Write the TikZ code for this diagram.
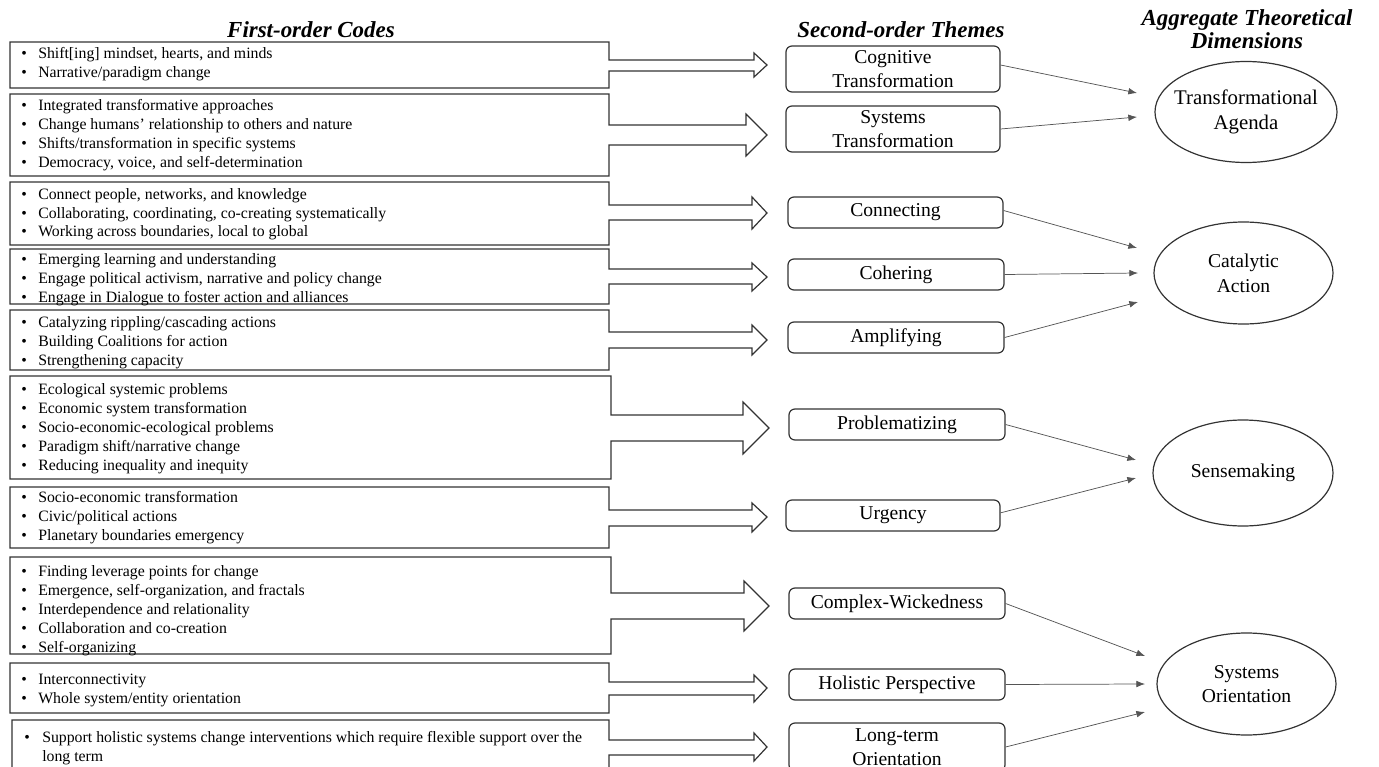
\documentclass[tikz,border=0pt]{standalone}
\usepackage{fontspec}
\setmainfont{Liberation Serif}
\usetikzlibrary{shapes.geometric,arrows.meta}
\definecolor{edge}{HTML}{333333}
\definecolor{conn}{HTML}{555555}
\tikzset{
  codebox/.style={draw=edge, line width=0.9pt, line join=miter},
  codes/.style={inner sep=0pt, anchor=base west, font=\fontsize{11.85}{14.25}\selectfont},
  theme/.style={draw=edge, line width=0.9pt, rounded corners=4.5pt, inner sep=0pt, align=center,
    font=\fontsize{14.7}{18}\selectfont},
  dimension/.style={draw=edge, line width=0.9pt, ellipse, inner xsep=-9pt, inner ysep=0pt, align=center,
    font=\fontsize{14.7}{18.5}\selectfont},
  heading/.style={inner sep=0pt, align=center, font=\fontsize{17.2}{17.5}\selectfont\bfseries\itshape},
  link/.style={draw=conn, line width=0.55pt, -{Latex[length=6.5pt,width=5pt]}}
}
\newcommand{\bl}{\textbullet}
\begin{document}
\begin{tikzpicture}[x=0.75pt,y=-0.75pt]
\useasboundingbox (0,0) rectangle (1379,767);
\clip (0,0) rectangle (1379,767);

% headings
\node[heading] (h1) at (311,30) {First-order Codes};
\node[heading] (h2) at (901,30) {Second-order Themes};
\node[heading] (h3) at (1247,29) {Aggregate Theoretical\\Dimensions};

% first-order callout boxes
\draw[codebox] (10,42) -- (609,42) -- (609,60) -- (754,60) -- (754,53) -- (767,65) -- (754,77) -- (754,71) -- (609,71) -- (609,88) -- (10,88) -- cycle;
\draw[codebox] (10,94) -- (609,94) -- (609,125) -- (746,125) -- (746,114) -- (767,135) -- (746,156) -- (746,145) -- (609,145) -- (609,176) -- (10,176) -- cycle;
\draw[codebox] (10,182) -- (609,182) -- (609,205) -- (752,205) -- (752,197) -- (767,213) -- (752,229) -- (752,220) -- (609,220) -- (609,245) -- (10,245) -- cycle;
\draw[codebox] (10,249) -- (609,249) -- (609,269) -- (752,269) -- (752,263) -- (767,277) -- (752,291) -- (752,284) -- (609,284) -- (609,304) -- (10,304) -- cycle;
\draw[codebox] (10,310) -- (609,310) -- (609,332) -- (752,332) -- (752,325) -- (767,340) -- (752,355) -- (752,348) -- (609,348) -- (609,370) -- (10,370) -- cycle;
\draw[codebox] (10,376) -- (611,376) -- (611,415) -- (743,415) -- (743,402) -- (769,428) -- (743,454) -- (743,441) -- (611,441) -- (611,479) -- (10,479) -- cycle;
\draw[codebox] (10,487) -- (609,487) -- (609,510) -- (752,510) -- (752,503) -- (767,517) -- (752,532) -- (752,526) -- (609,526) -- (609,548) -- (10,548) -- cycle;
\draw[codebox] (10,557) -- (611,557) -- (611,593) -- (744,593) -- (744,581) -- (769,606) -- (744,631) -- (744,619) -- (611,619) -- (611,654) -- (10,654) -- cycle;
\draw[codebox] (10,663) -- (609,663) -- (609,682) -- (754,682) -- (754,675) -- (767,688) -- (754,702) -- (754,695) -- (609,695) -- (609,713) -- (10,713) -- cycle;
\draw[codebox] (12,720) -- (609,720) -- (609,740) -- (754,740) -- (754,733) -- (767,747) -- (754,761) -- (754,755) -- (609,755) -- (609,790) -- (12,790) -- cycle;

% first-order codes
\node[codes] (c1) at (21,59) {\begin{tabular}[t]{@{}p{12.75pt}@{}l@{}}
\bl & Shift[ing] mindset, hearts, and minds\\
\bl & Narrative/paradigm change\end{tabular}};
\node[codes] (c2) at (21,111) {\begin{tabular}[t]{@{}p{12.75pt}@{}l@{}}
\bl & Integrated transformative approaches\\
\bl & Change humans’ relationship to others and nature\\
\bl & Shifts/transformation in specific systems\\
\bl & Democracy, voice, and self-determination\end{tabular}};
\node[codes] (c3) at (21,199) {\begin{tabular}[t]{@{}p{12.75pt}@{}l@{}}
\bl & Connect people, networks, and knowledge\\
\bl & Collaborating, coordinating, co-creating systematically\\
\bl & Working across boundaries, local to global\end{tabular}};
\node[codes] (c4) at (21,264) {\begin{tabular}[t]{@{}p{12.75pt}@{}l@{}}
\bl & Emerging learning and understanding\\
\bl & Engage political activism, narrative and policy change\\
\bl & Engage in Dialogue to foster action and alliances\end{tabular}};
\node[codes] (c5) at (21,327) {\begin{tabular}[t]{@{}p{12.75pt}@{}l@{}}
\bl & Catalyzing rippling/cascading actions\\
\bl & Building Coalitions for action\\
\bl & Strengthening capacity\end{tabular}};
\node[codes] (c6) at (21,394) {\begin{tabular}[t]{@{}p{12.75pt}@{}l@{}}
\bl & Ecological systemic problems\\
\bl & Economic system transformation\\
\bl & Socio-economic-ecological problems\\
\bl & Paradigm shift/narrative change\\
\bl & Reducing inequality and inequity\end{tabular}};
\node[codes] (c7) at (21,502) {\begin{tabular}[t]{@{}p{12.75pt}@{}l@{}}
\bl & Socio-economic transformation\\
\bl & Civic/political actions\\
\bl & Planetary boundaries emergency\end{tabular}};
\node[codes] (c8) at (21,576) {\begin{tabular}[t]{@{}p{12.75pt}@{}l@{}}
\bl & Finding leverage points for change\\
\bl & Emergence, self-organization, and fractals\\
\bl & Interdependence and relationality\\
\bl & Collaboration and co-creation\\
\bl & Self-organizing\end{tabular}};
\node[codes] (c9) at (21,684) {\begin{tabular}[t]{@{}p{12.75pt}@{}l@{}}
\bl & Interconnectivity\\
\bl & Whole system/entity orientation\end{tabular}};
\node[codes] (c10) at (24,742) {\begin{tabular}[t]{@{}p{13.5pt}@{}l@{}}
\bl & Support holistic systems change interventions which require flexible support over the\\
 & long term\end{tabular}};

% second-order themes
\node[theme, minimum width=160.5pt, minimum height=34.5pt] (cog) at (893,69) {Cognitive\\Transformation};
\node[theme, minimum width=160.5pt, minimum height=34.5pt] (sys) at (893,129) {Systems\\Transformation};
\node[theme, minimum width=161.25pt, minimum height=23.25pt] (con) at (895.5,212.5) {Connecting};
\node[theme, minimum width=162pt, minimum height=23.25pt] (coh) at (896,274.5) {Cohering};
\node[theme, minimum width=162pt, minimum height=23.25pt] (amp) at (896,337.5) {Amplifying};
\node[theme, minimum width=162pt, minimum height=23.25pt] (pro) at (897,424.5) {Problematizing};
\node[theme, minimum width=160.5pt, minimum height=23.25pt] (urg) at (893,515.5) {Urgency};
\node[theme, minimum width=162pt, minimum height=23.25pt] (cw) at (897,603.5) {Complex-Wickedness};
\node[theme, minimum width=162pt, minimum height=23.25pt] (hol) at (897,684.5) {Holistic Perspective};
\node[theme, minimum width=162pt, minimum height=36pt] (lt) at (897,747) {Long-term\\Orientation};

% aggregate dimensions
\node[dimension, minimum width=136.5pt, minimum height=75.75pt, font=\fontsize{15.6}{18.5}\selectfont] (ta) at (1246,112) {Transformational\\Agenda};
\node[dimension, minimum width=134.25pt, minimum height=76.5pt] (ca) at (1243.5,273) {Catalytic\\Action};
\node[dimension, minimum width=135pt, minimum height=79.5pt] (sm) at (1243,473) {Sensemaking};
\node[dimension, minimum width=134.25pt, minimum height=76.5pt] (so) at (1246.5,684) {Systems\\Orientation};

% arrow ends
\coordinate (ta1) at (1137,93);
\coordinate (ta2) at (1137,117);
\coordinate (ca1) at (1137,248);
\coordinate (ca2) at (1138,273);
\coordinate (ca3) at (1138,302);
\coordinate (sm1) at (1136,460);
\coordinate (sm2) at (1136,478);
\coordinate (so1) at (1145,656);
\coordinate (so2) at (1145,684);
\coordinate (so3) at (1145,712);

\draw[link] ([yshift=3pt]cog.east) -- (ta1);
\draw[link] (sys.east) -- (ta2);
\draw[link] ([yshift=1.5pt]con.east) -- (ca1);
\draw[link] (coh.east) -- (ca2);
\draw[link] (amp.east) -- (ca3);
\draw[link] (pro.east) -- (sm1);
\draw[link] ([yshift=2pt]urg.east) -- (sm2);
\draw[link] (cw.east) -- (so1);
\draw[link] (hol.east) -- (so2);
\draw[link] (lt.east) -- (so3);
\end{tikzpicture}
\end{document}
